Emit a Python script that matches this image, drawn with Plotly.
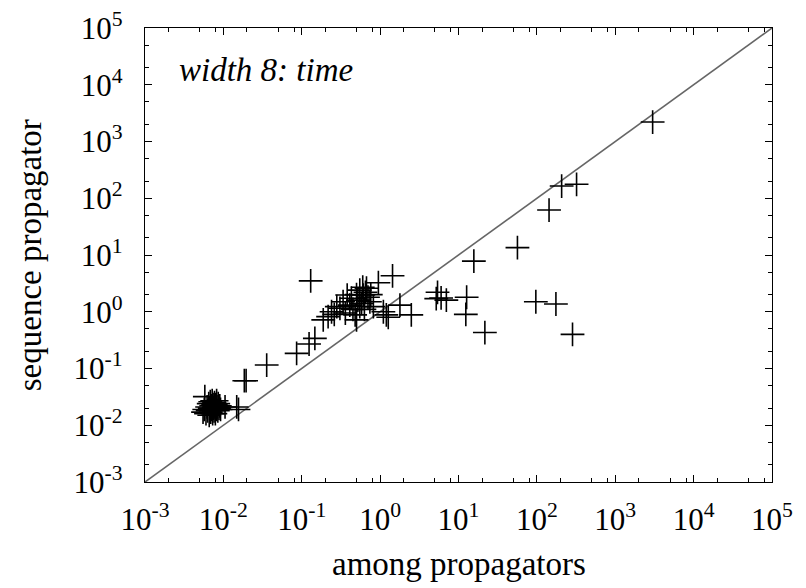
import plotly.graph_objects as go

# --- data ---
blob_x = [0.0058, 0.0055, 0.0057, 0.0060, 0.0062, 0.0063, 0.0065, 0.0066, 0.0067, 0.0068,
          0.0069, 0.0070, 0.0071, 0.0072, 0.0073, 0.0074, 0.0075, 0.0076, 0.0077, 0.0078,
          0.0079, 0.0080, 0.0081, 0.0082, 0.0083, 0.0085, 0.0086, 0.0088, 0.0090, 0.0092,
          0.0105, 0.0148, 0.0156, 0.0185, 0.0195, 0.0357]
blob_y = [0.032, 0.017, 0.019, 0.016, 0.021, 0.018, 0.024, 0.015, 0.020, 0.026,
          0.017, 0.022, 0.019, 0.027, 0.016, 0.023, 0.020, 0.018, 0.025, 0.021,
          0.016, 0.023, 0.019, 0.027, 0.021, 0.018, 0.024, 0.020, 0.022, 0.019,
          0.021, 0.021, 0.019, 0.061, 0.061, 0.115]

mid_x = [0.086, 0.124, 0.147, 0.13, 0.188, 0.217, 0.24, 0.28, 0.307, 0.337,
         0.38, 0.41, 0.43, 0.48, 0.50, 0.55, 0.55, 0.61, 0.67, 0.74,
         0.82, 0.95, 1.1, 1.2, 1.27, 1.44, 1.79, 2.5, 0.45, 0.52,
         0.58, 0.63, 0.70, 0.36, 0.65, 0.76, 0.26, 0.50, 0.60]
mid_y = [0.185, 0.27, 0.34, 3.5, 0.72, 0.82, 1.0, 1.23, 1.15, 1.5,
         1.97, 1.31, 1.73, 0.88, 0.72, 2.4, 1.23, 1.97, 2.6, 1.5,
         1.23, 3.25, 1.0, 0.88, 0.80, 4.3, 1.31, 0.88, 1.1, 1.6,
         1.4, 1.1, 1.8, 0.95, 2.2, 2.0, 0.9, 2.0, 2.7]

right_x = [5.4, 5.2, 6.0, 7.0, 12.7, 12.4, 21.7, 15.7, 56.5, 97, 175, 285, 143, 207, 321, 3000]
right_y = [2.2, 1.7, 1.75, 1.6, 1.8, 0.90, 0.43, 7.8, 13.5, 1.5, 1.37, 0.40, 62, 164, 176, 2200]

diag = [1e-3, 1e5]

decades = [-3, -2, -1, 0, 1, 2, 3, 4, 5]
tick_vals = [10.0 ** d for d in decades]
tick_text = ["10<sup>%d</sup>" % d for d in decades]
x_minor = [m * 10.0 ** d for d in decades[:-1] for m in (2, 5, 8)]
y_minor = [m * 10.0 ** d for d in decades[:-1] for m in (2, 5)]

xs = blob_x + mid_x + right_x
ys = blob_y + mid_y + right_y

FONT = "Liberation Serif, Times New Roman, serif"

fig = go.Figure()
fig.add_trace(go.Scatter(x=diag, y=diag, mode="lines",
                         line=dict(color="#666666", width=1.6),
                         hoverinfo="skip", showlegend=False))
fig.add_trace(go.Scatter(x=xs, y=ys, mode="markers",
                         marker=dict(symbol="cross-thin", size=17,
                                     line=dict(color="black", width=1.6)),
                         showlegend=False))

axis_common = dict(
    type="log", range=[-3, 5], automargin=False,
    tickmode="array", tickvals=tick_vals, ticktext=tick_text,
    ticks="inside", ticklen=7, tickwidth=1.2, tickcolor="black",
    showline=True, linecolor="black", linewidth=1.4, mirror="allticks",
    showgrid=False, zeroline=False, ticklabeloverflow="allow",
    tickfont=dict(family=FONT, size=31, color="black"),
)

# the page body adds an 8px offset, so the figure is 8px smaller than the window
fig.update_layout(
    width=798, height=580,
    margin=dict(l=137, r=34, t=20, b=106, autoexpand=False),
    paper_bgcolor="white", plot_bgcolor="white",
    xaxis=dict(**axis_common, ticklabelstandoff=10,
               minor=dict(tickvals=x_minor, ticks="inside", ticklen=4,
                          tickwidth=1.2, tickcolor="black")),
    yaxis=dict(**axis_common, ticklabelstandoff=15,
               minor=dict(tickvals=y_minor, ticks="inside", ticklen=4,
                          tickwidth=1.2, tickcolor="black")),
    annotations=[
        dict(text="<i>width 8: time</i>", xref="paper", yref="paper",
             x=0.051, y=0.907, xanchor="left", yanchor="middle", showarrow=False,
             font=dict(family=FONT, size=33, color="black")),
        dict(text="among propagators", xref="paper", yref="paper",
             x=0.5, y=-0.18, xanchor="center", yanchor="middle", showarrow=False,
             font=dict(family=FONT, size=33, color="black")),
        dict(text="sequence propagator", xref="paper", yref="paper",
             x=-0.183, y=0.5, xanchor="center", yanchor="middle", showarrow=False,
             textangle=-90,
             font=dict(family=FONT, size=33, color="black")),
    ],
)

fig.write_html("out.html")
